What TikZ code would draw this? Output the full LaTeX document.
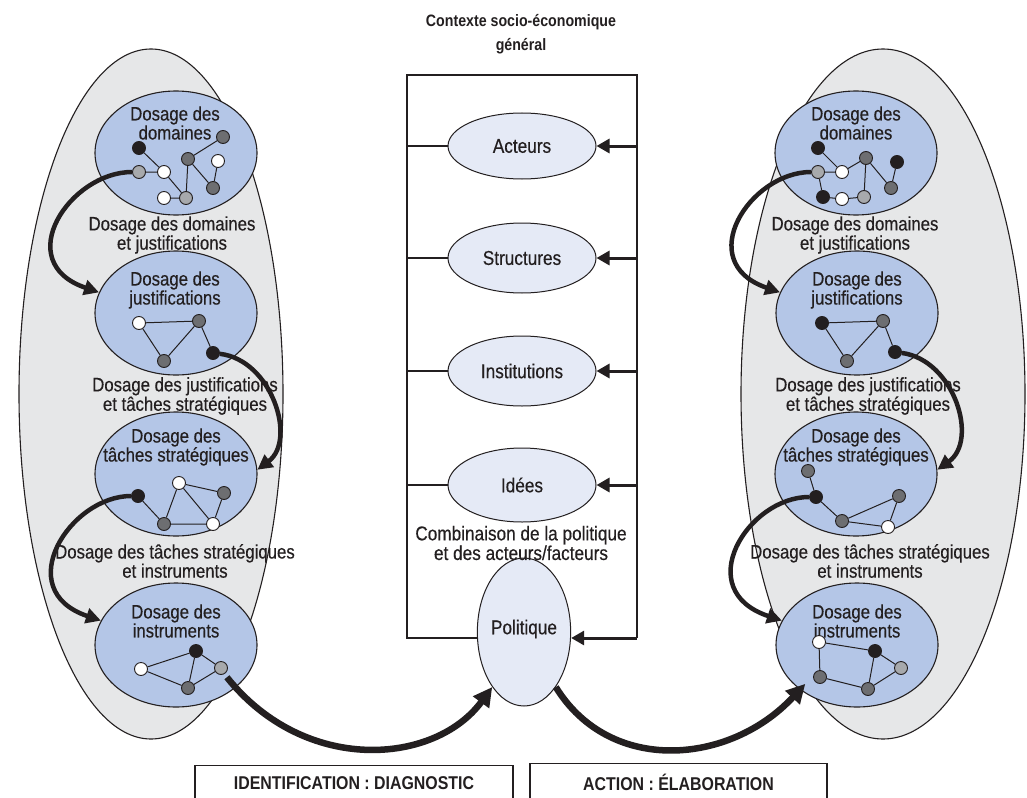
\documentclass[tikz,border=0pt]{standalone}
\usepackage{fontspec}
\setmainfont{Liberation Sans}[FakeStretch=0.86,UprightFeatures={FakeBold=0.35}]
\usetikzlibrary{arrows.meta,shapes.geometric}
\definecolor{txt}{HTML}{231F20}
\definecolor{bigfill}{HTML}{E6E7E8}
\definecolor{bluefill}{HTML}{B4C6E7}
\definecolor{ctrfill}{HTML}{E5EAF6}
\definecolor{ndark}{HTML}{6D6E71}
\definecolor{nlight}{HTML}{A7A9AC}
\begin{document}
\begin{tikzpicture}[x=1pt,y=-1pt,
  bigell/.style={ellipse,draw=txt,line width=1.1pt,fill=bigfill,inner sep=0pt,minimum height=690pt},
  blueell/.style={ellipse,draw=txt,line width=1.1pt,fill=bluefill,inner sep=0pt,minimum width=162pt,minimum height=124pt},
  ctrell/.style={ellipse,draw=txt,line width=1pt,fill=ctrfill,inner sep=0pt,text=txt,font=\fontsize{20}{20}\selectfont},
  ttl/.style={align=center,text=txt,font=\fontsize{19.5}{19}\selectfont},
  lbl/.style={align=center,text=txt,font=\fontsize{19.5}{16.5}\selectfont},
  nd/.style={circle,draw=txt,line width=0.9pt,minimum size=13pt,inner sep=0pt},
  nb/.style={nd,fill=txt},
  ng/.style={nd,fill=ndark},
  nl/.style={nd,fill=nlight},
  nw/.style={nd,fill=white},
  edge/.style={draw=txt,line width=1pt},
  frame/.style={draw=txt,line width=1.1pt},
  curvarr/.style={draw=txt,line width=4.5pt,-{Triangle[length=15pt,width=15pt]}},
  bigarr/.style={draw=txt,line width=6.5pt,-{Triangle[length=19pt,width=19pt]}},
  sidearr/.style={draw=txt,line width=3pt,-{Triangle[length=13pt,width=14pt]}},
  boxst/.style={draw=txt,line width=1.1pt,inner sep=0pt,text=txt,font=\bfseries\fontsize{18.5}{18.5}\selectfont}
]
\useasboundingbox (0,0) rectangle (1027,797);
\fill[white] (0,0) rectangle (1027,797);

% big ellipses
\node[bigell,minimum width=264pt] (BigL) at (151,394) {};
\node[bigell,minimum width=284pt] (BigR) at (883,394) {};

% blue ellipses
\node[blueell] (L1) at (176,153) {};
\node[blueell] (L2) at (176,313) {};
\node[blueell] (L3) at (176,474) {};
\node[blueell] (L4) at (176,645) {};
\node[blueell] (R1) at (856,153) {};
\node[blueell] (R2) at (857,313) {};
\node[blueell] (R3) at (856,474) {};
\node[blueell] (R4) at (857,645) {};

% titles in blue ellipses
\node[ttl] (tL1) at (175,123) {Dosage des\\domaines};
\node[ttl] (tL2) at (175,290) {Dosage des\\justifications};
\node[ttl] (tL3) at (176,447) {Dosage des\\tâches stratégiques};
\node[ttl] (tL4) at (176,621) {Dosage des\\instruments};
\node[ttl] (tR1) at (856,123) {Dosage des\\domaines};
\node[ttl] (tR2) at (857,290) {Dosage des\\justifications};
\node[ttl] (tR3) at (856,447) {Dosage des\\tâches stratégiques};
\node[ttl] (tR4) at (857,621) {Dosage des\\instruments};

% labels between ellipses
\node[lbl] (bL1) at (172,235) {Dosage des domaines\\et justifications};
\node[lbl] (bL2) at (185,396) {Dosage des justifications\\et tâches stratégiques};
\node[lbl] (bL3) at (175,561) {Dosage des tâches stratégiques\\et instruments};
\node[lbl] (bR1) at (855,235) {Dosage des domaines\\et justifications};
\node[lbl] (bR2) at (868,396) {Dosage des justifications\\et tâches stratégiques};
\node[lbl] (bR3) at (870,561) {Dosage des tâches stratégiques\\et instruments};

% ---- left networks
\node[nb] (a1) at (139,148) {};
\node[nl] (a2) at (139,172) {};
\node[nw] (a3) at (164,172) {};
\node[nw] (a4) at (164,198) {};
\node[nl] (a5) at (186,198) {};
\node[ng] (a6) at (188,159) {};
\node[ng] (a7) at (223,137) {};
\node[nw] (a8) at (218,161) {};
\node[ng] (a9) at (213,188) {};
\draw[edge] (a1)--(a3) (a3)--(a5) (a2)--(a3) (a4)--(a5) (a5)--(a6) (a6)--(a7) (a6)--(a9) (a9)--(a8);

\node[nw] (b1) at (139,323) {};
\node[ng] (b2) at (199,321) {};
\node[ng] (b3) at (164,361) {};
\node[nb] (b4) at (213,353) {};
\draw[edge] (b1)--(b2) (b1)--(b3) (b3)--(b2) (b2)--(b4);

\node[nw] (c1) at (179,483) {};
\node[ng] (c2) at (224,493) {};
\node[nb] (c3) at (138,496) {};
\node[ng] (c4) at (164,524) {};
\node[nw] (c5) at (213,524) {};
\draw[edge] (c1)--(c2) (c1)--(c4) (c1)--(c5) (c2)--(c5) (c3)--(c4) (c4)--(c5);

\node[nb] (d1) at (196,651) {};
\node[nw] (d2) at (141,669) {};
\node[nl] (d3) at (221,668) {};
\node[ng] (d4) at (188,688) {};
\draw[edge] (d2)--(d1) (d1)--(d3) (d1)--(d4) (d2)--(d4) (d3)--(d4);

% ---- right networks
\node[nb] (e1) at (818,148) {};
\node[nl] (e2) at (818,172) {};
\node[nw] (e3) at (842,172) {};
\node[ng] (e4) at (866,158) {};
\node[nb] (e5) at (897,162) {};
\node[ng] (e6) at (891,188) {};
\node[nb] (e7) at (823,197) {};
\node[nw] (e8) at (842,199) {};
\node[nl] (e9) at (864,197) {};
\draw[edge] (e1)--(e3) (e2)--(e3) (e3)--(e4) (e2)--(e7) (e7)--(e8) (e8)--(e9) (e9)--(e4) (e4)--(e6) (e6)--(e5);

\node[nb] (f1) at (822,323) {};
\node[ng] (f2) at (883,321) {};
\node[ng] (f3) at (847,361) {};
\node[nb] (f4) at (895,352) {};
\draw[edge] (f1)--(f2) (f1)--(f3) (f3)--(f2) (f2)--(f4);

\node[ng] (g1) at (808,471) {};
\node[nb] (g2) at (816,497) {};
\node[ng] (g3) at (842,521) {};
\node[ng] (g4) at (899,496) {};
\node[nw] (g5) at (888,527) {};
\draw[edge] (g1)--(g2) (g2)--(g3) (g3)--(g4) (g3)--(g5) (g4)--(g5);

\node[nw] (h1) at (819,642) {};
\node[nb] (h2) at (875,651) {};
\node[nl] (h3) at (901,668) {};
\node[ng] (h4) at (820,677) {};
\node[ng] (h5) at (868,689) {};
\draw[edge] (h1)--(h2) (h1)--(h4) (h2)--(h3) (h2)--(h5) (h4)--(h5) (h3)--(h5);

% curved arrows inside big ellipses
\draw[curvarr] (a2) .. controls (70,172) and (10,262) .. (L2.165);
\draw[curvarr] (b4) .. controls (272,360) and (297,440) .. (L3.3);
\draw[curvarr] (c3) .. controls (70,496) and (10,590) .. (L4.162);
\draw[curvarr] (e2) .. controls (750,172) and (692,262) .. (R2.165);
\draw[curvarr] (f4) .. controls (954,360) and (979,440) .. (R3.3);
\draw[curvarr] (g2) .. controls (748,497) and (690,590) .. (R4.162);

% ---- centre column
\node[align=center,text=txt,font=\bfseries\fontsize{16.5}{24}\selectfont] (title) at (521,34) {Contexte socio-économique\\général};

\coordinate (TL) at (407,75);
\coordinate (TR) at (637,75);
\coordinate (BL) at (407,638);
\coordinate (BR) at (637,638);

\node[ctrell,minimum width=148pt,minimum height=66pt] (A) at (522,146) {Acteurs};
\node[ctrell,minimum width=148pt,minimum height=70pt] (S) at (522,258) {Structures};
\node[ctrell,minimum width=148pt,minimum height=70pt] (I) at (522,371) {Institutions};
\node[ctrell,minimum width=148pt,minimum height=74pt] (Id) at (522,485) {Idées};
\node[ctrell,minimum width=82pt,minimum height=148pt,text depth=10pt] (P) at (524,632) {Politique};

\node[lbl,font=\fontsize{20}{16.5}\selectfont] (comb) at (521,543) {Combinaison de la politique\\et des acteurs/facteurs};

\draw[frame] (P.west |- BL) -- (BL) -- (TL) -- (TR) -- (BR);
\draw[frame] (A.west -| TL) -- (A.west);
\draw[frame] (S.west -| TL) -- (S.west);
\draw[frame] (I.west -| TL) -- (I.west);
\draw[frame] (Id.west -| TL) -- (Id.west);
\draw[sidearr] (A.east -| TR) -- (A.east);
\draw[sidearr] (S.east -| TR) -- (S.east);
\draw[sidearr] (I.east -| TR) -- (I.east);
\draw[sidearr] (Id.east -| TR) -- (Id.east);
\draw[sidearr] (BR) -- (P.east |- BR);

% bottom arrows
\draw[bigarr] (BigL.-75) .. controls (305,775) and (435,765) .. (P.-120);
\draw[bigarr] (P.-60) .. controls (610,775) and (730,765) .. (BigR.-105);

% bottom boxes
\node[boxst,minimum width=318pt,minimum height=36pt,anchor=north] (idbox) at (354,765) {IDENTIFICATION : DIAGNOSTIC};
\node[boxst,minimum width=297pt,minimum height=38pt,anchor=north] (acbox) at (678.5,763) {ACTION : ÉLABORATION};
\end{tikzpicture}
\end{document}
